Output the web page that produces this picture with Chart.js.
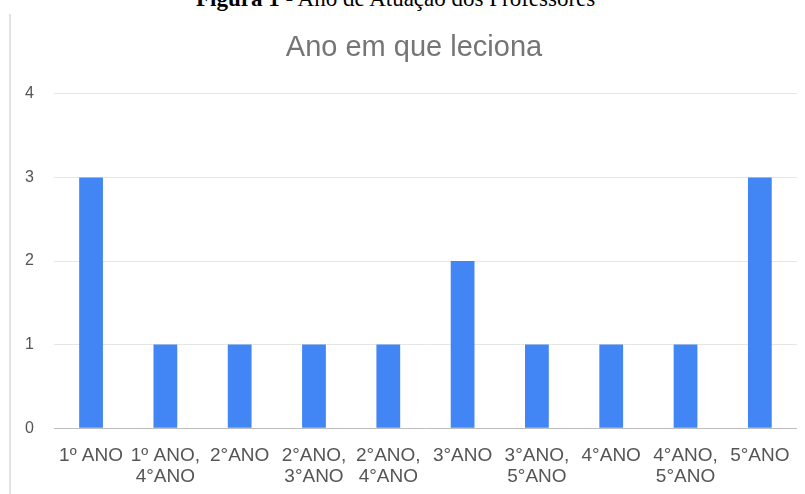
<!DOCTYPE html>
<html>
<head>
<meta charset="utf-8">
<script src="https://cdn.jsdelivr.net/npm/chart.js@4.4.1/dist/chart.umd.min.js"></script>
<style>
  body { margin: 0; background: #fff; width: 805px; height: 494px; overflow: hidden; position: relative; }
  #caption {
    position: absolute; left: 196px; top: -14px; width: 470px;
    font-family: "Liberation Serif", serif; font-size: 23px; color: #000; white-space: nowrap;
  }
  #frame { position: absolute; left: 9px; top: 14px; width: 2px; height: 480px; background: #e2e2e2; z-index: 2; }
  #box { position: absolute; left: 5px; top: 14px; width: 792px; height: 482px; }
</style>
</head>
<body>
<div id="caption"><b>Figura 1</b> - Ano de Atuação dos Professores</div>
<div id="frame"></div>
<div id="box"><canvas id="anoChart"></canvas></div>
<script>
const chartTitle = 'Ano em que leciona';
const categories = [
    '1º ANO',
    ['1º ANO,', '4°ANO'],
    '2°ANO',
    ['2°ANO,', '3°ANO'],
    ['2°ANO,', '4°ANO'],
    '3°ANO',
    ['3°ANO,', '5°ANO'],
    '4°ANO',
    ['4°ANO,', '5°ANO'],
    '5°ANO'
];
const professores = [3, 1, 1, 1, 1, 2, 1, 1, 1, 3];
const yTicks = [0, 1, 2, 3, 4];

const baseFont = '"Liberation Sans", Arial, sans-serif';

// nudge the title a bit to the right, like the original
const titleShift = {
    id: 'titleShift',
    afterLayout(chart) {
        if (chart.titleBlock) chart.titleBlock.left += 26;
    }
};

function drawChart() {
    const ctx = document.getElementById('anoChart').getContext('2d');

    window.anoChart = new Chart(ctx, {
        type: 'bar',
        data: {
            labels: categories,
            datasets: [
                {
                    label: 'Professores',
                    data: professores,
                    backgroundColor: '#4285F4',
                    barPercentage: 0.32,
                    categoryPercentage: 1
                }
            ]
        },
        plugins: [titleShift],
        options: {
            responsive: true,
            maintainAspectRatio: false,
            animation: false,
            layout: { padding: { left: 0, right: 0, top: 0, bottom: 0 } },
            plugins: {
                legend: { display: false },
                tooltip: { enabled: false },
                title: {
                    display: true,
                    text: chartTitle,
                    color: '#757575',
                    font: { family: baseFont, size: 29, weight: 'normal', lineHeight: 1.2 },
                    padding: { top: 17, bottom: 28 }
                }
            },
            scales: {
                x: {
                    grid: { display: false },
                    border: { display: false },
                    afterFit: axis => { axis.paddingLeft = 0; axis.paddingRight = 0; },
                    ticks: {
                        color: '#555',
                        autoSkip: false,
                        maxRotation: 0,
                        padding: 9,
                        font: { family: baseFont, size: 19, lineHeight: 1.1 }
                    }
                },
                y: {
                    min: yTicks[0],
                    max: yTicks[yTicks.length - 1],
                    border: { display: false },
                    grid: {
                        drawTicks: false,
                        color: c => c.tick && c.tick.value === 0 ? '#bdbdbd' : '#e6e6e6'
                    },
                    afterBuildTicks: axis => { axis.ticks = yTicks.map(v => ({ value: v })); },
                    ticks: {
                        color: '#555',
                        padding: 20,
                        font: { family: baseFont, size: 16 }
                    }
                }
            }
        }
    });
}

drawChart();
</script>
</body>
</html>
